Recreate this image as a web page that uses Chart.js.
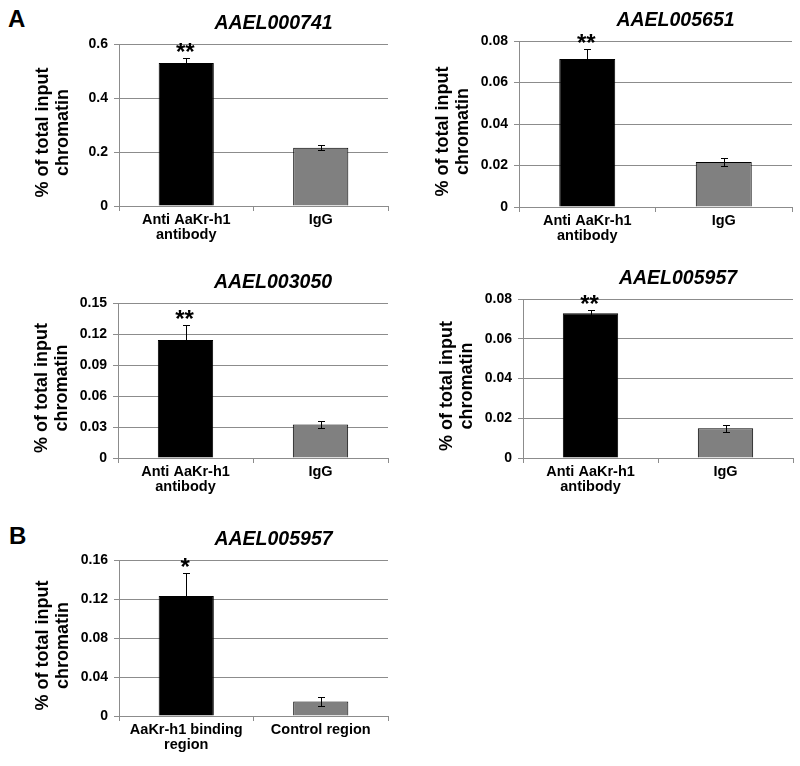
<!DOCTYPE html>
<html>
<head>
<meta charset="utf-8">
<script src="https://cdn.jsdelivr.net/npm/chart.js@4/dist/chart.umd.min.js"></script>
<style>
  body { margin: 0; background: #fff; width: 800px; height: 766px; position: relative; overflow: hidden;
         font-family: "Liberation Sans", Arial, sans-serif; }
  .panel-label { position: absolute; font-weight: bold; font-size: 24px; line-height: 24px; color: #000; }
  canvas { position: absolute; }
</style>
</head>
<body>
<div class="panel-label" style="left:8px;top:7px">A</div>
<div class="panel-label" style="left:9px;top:524px">B</div>
<canvas id="c1"></canvas>
<canvas id="c2"></canvas>
<canvas id="c3"></canvas>
<canvas id="c4"></canvas>
<canvas id="c5"></canvas>
<script>
// data
const geneTitles = ['AAEL000741', 'AAEL005651', 'AAEL003050', 'AAEL005957', 'AAEL005957'];
const antibodyLabels = [['Anti AaKr-h1', 'antibody'], 'IgG'];
const regionLabels = [['AaKr-h1 binding', 'region'], 'Control region'];

const means741 = [0.530, 0.216];
const errs741 = [0.018, 0.009];
const means5651 = [0.0713, 0.0217];
const errs5651 = [0.0048, 0.0019];
const means3050 = [0.1142, 0.0325];
const errs3050 = [0.0145, 0.0030];
const means5957 = [0.0728, 0.0150];
const errs5957 = [0.0018, 0.0017];
const meansRegion = [0.1230, 0.0148];
const errsRegion = [0.0237, 0.0045];

const starsDouble = ['**', ''];
const starsSingle = ['*', ''];

const yMax = [0.6, 0.08, 0.15, 0.08, 0.16];
const yStep = [0.2, 0.02, 0.03, 0.02, 0.04];

// plot area of each panel on the page: left, top, right, bottom
const plotBoxes = [
  [119, 44, 388, 206],
  [519, 41, 792, 207],
  [118, 303, 388, 458],
  [523, 299, 793, 458],
  [119, 560, 388, 716]
];

const AXIS_W = 94, AXIS_H = 42, PAD_TOP = 34, PAD_RIGHT = 2;
const gridGray = '#8c8c8c';

Chart.defaults.font.family = '"Liberation Sans", Arial, sans-serif';
Chart.defaults.color = '#000';

// error bars + significance stars
const errorBars = {
  id: 'errorBars',
  afterDatasetsDraw(chart) {
    const ctx = chart.ctx;
    const y = chart.scales.y;
    chart.data.datasets.forEach((ds, i) => {
      const meta = chart.getDatasetMeta(i);
      meta.data.forEach((bar, j) => {
        const v = ds.data[j], e = ds.errors[j];
        const x = Math.round(bar.x) + 0.5;
        const top = Math.round(y.getPixelForValue(v + e)) + 0.5;
        const bot = Math.round(y.getPixelForValue(v - e)) + 0.5;
        ctx.save();
        ctx.strokeStyle = '#000';
        ctx.lineWidth = 1;
        ctx.beginPath();
        ctx.moveTo(x, bot); ctx.lineTo(x, top);
        ctx.moveTo(x - 3.5, top); ctx.lineTo(x + 3.5, top);
        ctx.moveTo(x - 3.5, bot); ctx.lineTo(x + 3.5, bot);
        ctx.stroke();
        if (ds.marks && ds.marks[j]) {
          ctx.fillStyle = '#000';
          ctx.font = 'bold 24px "Liberation Sans", Arial, sans-serif';
          ctx.textAlign = 'center';
          ctx.textBaseline = 'alphabetic';
          ctx.fillText(ds.marks[j], bar.x - 1, top + 1);
        }
        ctx.restore();
      });
    });
  }
};

// gene name above each panel (sits a bit right of the plot centre)
const geneTitle = {
  id: 'geneTitle',
  afterDraw(chart, args, opts) {
    const a = chart.chartArea;
    const ctx = chart.ctx;
    ctx.save();
    ctx.fillStyle = '#000';
    ctx.font = 'italic bold 19.5px "Liberation Sans", Arial, sans-serif';
    ctx.textAlign = 'center';
    ctx.textBaseline = 'middle';
    ctx.fillText(opts.text, (a.left + a.right) / 2 + 20, a.top - 20);
    ctx.restore();
  }
};

function makePanel(id, idx, labels, means, errs, marks) {
  const box = plotBoxes[idx];
  const canvas = document.getElementById(id);
  const left = box[0] - AXIS_W, top = box[1] - PAD_TOP;
  canvas.width = box[2] - left + PAD_RIGHT;
  canvas.height = box[3] - top + AXIS_H;
  canvas.style.left = left + 'px';
  canvas.style.top = top + 'px';

  return new Chart(canvas.getContext('2d'), {
    type: 'bar',
    data: {
      labels: labels,
      datasets: [{
        data: means,
        errors: errs,
        marks: marks,
        backgroundColor: ['#000000', '#808080'],
        borderColor: '#000',
        borderWidth: 1,
        barPercentage: 0.41,
        categoryPercentage: 1
      }]
    },
    options: {
      responsive: false,
      animation: false,
      events: [],
      layout: { padding: { top: PAD_TOP, right: PAD_RIGHT, left: 0, bottom: 0 } },
      plugins: {
        legend: { display: false },
        tooltip: { enabled: false },
        geneTitle: { text: geneTitles[idx] }
      },
      scales: {
        x: {
          afterFit: (s) => { s.height = AXIS_H; },
          grid: { offset: true, drawOnChartArea: false, drawTicks: true, tickLength: 5, color: gridGray },
          border: { color: gridGray },
          ticks: { padding: 1, font: { size: 14.5, weight: 'bold', lineHeight: 1.05 }, maxRotation: 0 }
        },
        y: {
          min: 0,
          max: yMax[idx],
          afterFit: (s) => { s.width = AXIS_W; },
          grid: { color: gridGray, drawTicks: true, tickLength: 5, tickColor: gridGray },
          border: { color: gridGray },
          ticks: { stepSize: yStep[idx], padding: 6, font: { size: 14, weight: 'bold' } },
          title: {
            display: true,
            // trailing spaces nudge the rotated text a little lower, as in the figure
            text: ['% of total input   ', 'chromatin   '],
            font: { size: 18, weight: 'bold', lineHeight: 1.1 },
            padding: { top: 8, bottom: 0 }
          }
        }
      }
    },
    plugins: [errorBars, geneTitle]
  });
}

makePanel('c1', 0, antibodyLabels, means741, errs741, starsDouble);
makePanel('c2', 1, antibodyLabels, means5651, errs5651, starsDouble);
makePanel('c3', 2, antibodyLabels, means3050, errs3050, starsDouble);
makePanel('c4', 3, antibodyLabels, means5957, errs5957, starsDouble);
makePanel('c5', 4, regionLabels, meansRegion, errsRegion, starsSingle);
</script>
</body>
</html>
